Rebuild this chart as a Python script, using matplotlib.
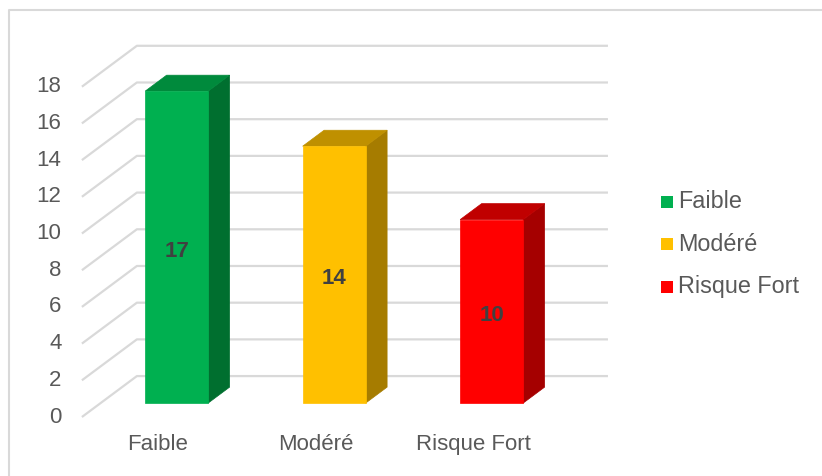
import matplotlib.pyplot as plt
from matplotlib.patches import Polygon

plt.rcParams['font.family'] = ['Liberation Sans', 'DejaVu Sans']

# données
categories = ['Faible', 'Modéré', 'Risque Fort']
values = [17, 14, 10]
front_colors = ['#00B050', '#FFC000', '#FF0000']
side_colors = ['#006F2F', '#A67C00', '#A50000']
top_colors = ['#008A3C', '#BF9000', '#C00000']
yticks = list(range(0, 19, 2))

# projection "3D" simple : profondeur 0 = avant, 1 = mur du fond
KX, KY = 0.349, 2.23
def proj(x, v, d):
    return (x + d * KX, v + d * KY)

fig = plt.figure(figsize=(8.22, 4.76), dpi=100)
ax = fig.add_axes([0, 0, 1, 1])
ax.set_xlim(-1.003, 4.216)
ax.set_ylim(-3.215, 22.725)
ax.axis('off')

# cadre du graphique
fig.add_artist(plt.Line2D([9/822, 9/822, 1], [0, 1 - 10/476, 1 - 10/476],
                          color='#D9D9D9', lw=1.5))

# quadrillage : diagonale du plancher + ligne du mur du fond
x_left, x_right = -0.483, 2.508
for v in yticks:
    p0 = proj(x_left, v, 0)
    p1 = proj(x_left, v, 1)
    p2 = proj(x_right, v, 1)
    ax.plot([p0[0], p1[0], p2[0]], [p0[1], p1[1], p2[1]],
            color='#D9D9D9', lw=1.6, zorder=1, solid_capstyle='butt')
    ax.text(p0[0] - 0.13, p0[1], str(v), ha='right', va='center',
            fontsize=16, color='#595959')

# barres
w = 0.4
d0, d1 = 0.34, 0.73
for i, (v, fc, sc, tc) in enumerate(zip(values, front_colors, side_colors, top_colors)):
    xl, xr = i - w / 2, i + w / 2
    front = [proj(xl, 0, d0), proj(xr, 0, d0), proj(xr, v, d0), proj(xl, v, d0)]
    side = [proj(xr, 0, d0), proj(xr, 0, d1), proj(xr, v, d1), proj(xr, v, d0)]
    top = [proj(xl, v, d0), proj(xr, v, d0), proj(xr, v, d1), proj(xl, v, d1)]
    ax.add_patch(Polygon(side, closed=True, facecolor=sc, edgecolor=sc, lw=0.5, zorder=3))
    ax.add_patch(Polygon(top, closed=True, facecolor=tc, edgecolor=tc, lw=0.5, zorder=3))
    ax.add_patch(Polygon(front, closed=True, facecolor=fc, edgecolor=fc, lw=0.5, zorder=4))
    cx, cy = proj(i, v / 2 - 0.22, d0)
    ax.text(cx, cy, str(v), ha='center', va='center', fontsize=16,
            fontweight='bold', color='#404040', zorder=5)
    lx, ly = proj(i, -1.5, 0)
    ax.text(lx, ly, categories[i], ha='center', va='center', fontsize=16,
            color='#595959')

# légende
for i, (cat, fc) in enumerate(zip(categories, front_colors)):
    yf = 1 - (202 + 42.5 * i) / 476
    fig.patches.append(plt.Rectangle((661/822, yf - 6/476), 12/822, 12/476,
                                     facecolor=fc, transform=fig.transFigure,
                                     figure=fig))
    fig.text(678/822, yf, cat, ha='left', va='center', fontsize=16.8, color='#595959')

fig.savefig('out.png', dpi=100)
